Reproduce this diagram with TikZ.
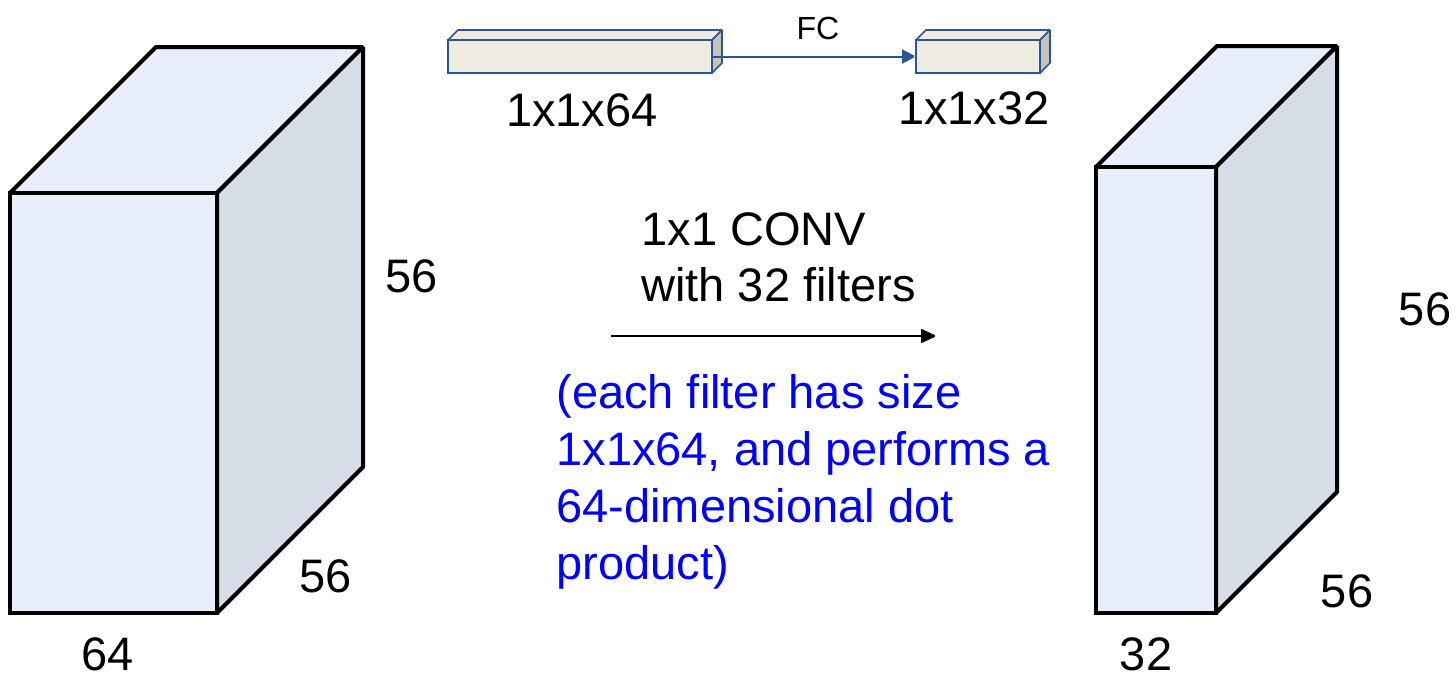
\documentclass[tikz,border=0pt]{standalone}
\usepackage{fontspec}
\setmainfont{Liberation Sans}
\usetikzlibrary{arrows.meta}

\definecolor{frontblue}{HTML}{E8EEFA}
\definecolor{sideblue}{HTML}{D6DDE7}
\definecolor{vecfront}{HTML}{EEECE1}
\definecolor{vecside}{HTML}{C4C3B8}
\definecolor{vecedge}{HTML}{2F5590}
\definecolor{noteblue}{HTML}{0000FF}

\begin{document}
\begin{tikzpicture}[
    x=0.5pt, y=-0.5pt, % one unit = one pixel of the slide
    line join=miter, miter limit=2,
    bigbox/.style={draw=black, line width=2pt},
    vecbox/.style={draw=vecedge, line width=0.8pt, inner sep=0pt, outer sep=0pt},
    dimlabel/.style={font=\fontsize{23.5}{28}\selectfont, anchor=base, inner sep=0pt},
    fclabel/.style={font=\fontsize{16}{19}\selectfont, anchor=base, inner sep=0pt},
    convtext/.style={font=\fontsize{23.5}{28}\selectfont, anchor=base west, align=left, inner sep=0pt}
]
  \useasboundingbox (0,0) rectangle (1456,677);

  % Input volume 56x56x64
  \filldraw[bigbox, fill=frontblue] (10,193) -- (156,47) -- (363,47) -- (217,193) -- cycle;
  \filldraw[bigbox, fill=sideblue] (217,193) -- (363,47) -- (363,467) -- (217,613) -- cycle;
  \filldraw[bigbox, fill=frontblue] (10,193) rectangle (217,613);

  % Output volume 56x56x32
  \filldraw[bigbox, fill=frontblue] (1096,167) -- (1217,46) -- (1337,46) -- (1216,167) -- cycle;
  \filldraw[bigbox, fill=sideblue] (1216,167) -- (1337,46) -- (1337,492) -- (1216,613) -- cycle;
  \filldraw[bigbox, fill=frontblue] (1096,167) rectangle (1216,613);

  % Fibre vectors
  \node[vecbox, fill=vecfront, minimum width=132pt, minimum height=16.5pt] (in64) at (580,56.5) {};
  \node[vecbox, fill=vecfront, minimum width=62pt, minimum height=16.5pt] (out32) at (978,56.5) {};
  \filldraw[vecbox, fill=vecfront] (in64.north west) -- ++(10,-10) -- ++(264,0) -- (in64.north east) -- cycle;
  \filldraw[vecbox, fill=vecside] (in64.north east) -- ++(10,-10) -- ++(0,33) -- (in64.south east) -- cycle;
  \filldraw[vecbox, fill=vecfront] (out32.north west) -- ++(10,-10) -- ++(124,0) -- (out32.north east) -- cycle;
  \filldraw[vecbox, fill=vecside] (out32.north east) -- ++(10,-10) -- ++(0,33) -- (out32.south east) -- cycle;
  \draw[vecedge, line width=1pt, -{Triangle[length=7pt,width=7pt]}] (in64.east) -- (out32.west);
  \node[fclabel] (fc) at (818,39) {FC};
  \node[dimlabel] (in64lab) at (582,126) {1x1x64};
  \node[dimlabel] (out32lab) at (974,124) {1x1x32};

  % Dimensions
  \node[dimlabel] (inh) at (412,292) {56};
  \node[dimlabel] (ind) at (326,592) {56};
  \node[dimlabel] (inc) at (108,670) {64};
  \node[dimlabel] (outh) at (1425,325) {56};
  \node[dimlabel] (outd) at (1347,607) {56};
  \node[dimlabel] (outc) at (1146,670) {32};

  % Convolution arrow (base anchor sits on the last text line)
  \coordinate (convfrom) at (611,336);
  \coordinate (convto) at (937,336);
  \draw[line width=1pt, -{Triangle[length=8pt,width=7pt]}] (convfrom) -- (convto);
  \node[convtext] (conv) at (641,301) {1x1 CONV\\with 32 filters};
  \node[convtext, text=noteblue, font=\fontsize{23.5}{28.5}\selectfont] (note) at (556,579)
    {(each filter has size\\1x1x64, and performs a\\64-dimensional dot\\product)};
\end{tikzpicture}
\end{document}
